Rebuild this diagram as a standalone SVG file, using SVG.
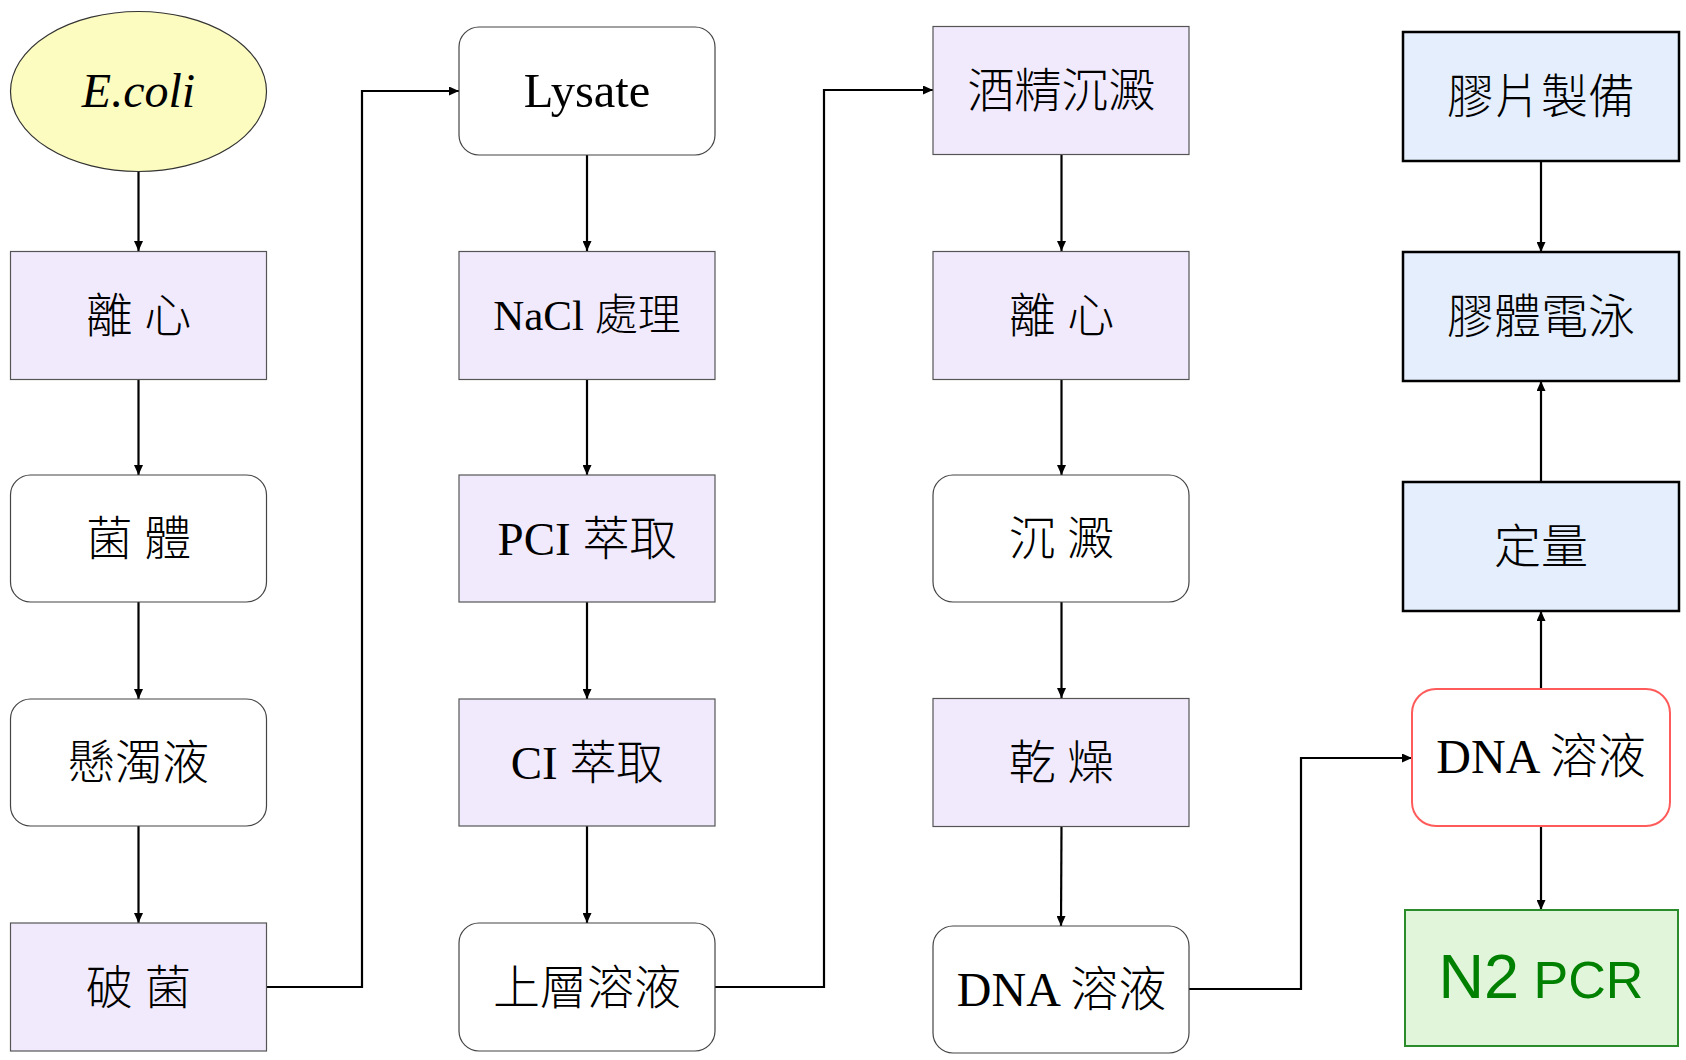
<svg xmlns="http://www.w3.org/2000/svg" width="1686" height="1060" viewBox="0 0 1686 1060">
<defs>
<marker id="arr" markerWidth="10" markerHeight="9" refX="10" refY="4.5" orient="auto" markerUnits="userSpaceOnUse">
<path d="M0,0 L10,4.5 L0,9 z" fill="#000"/>
</marker>
<style>
.t{font-family:"Liberation Serif","Noto Sans CJK TC",serif;font-size:47px;fill:#000;text-anchor:middle;font-weight:300}
.p{fill:#F1EAFD;stroke:#555;stroke-width:1.2}
.w{fill:#fff;stroke:#444;stroke-width:1.2}
.b{fill:#E4EEFC;stroke:#000;stroke-width:2.5}
.c{fill:none;stroke:#000;stroke-width:2.2}
</style>
</defs>
<rect width="1686" height="1060" fill="#fff"/>

<g id="connectors">
<path class="c" d="M138.5,172 V251" marker-end="url(#arr)"/>
<path class="c" d="M138.5,379 V475" marker-end="url(#arr)"/>
<path class="c" d="M138.5,602 V699" marker-end="url(#arr)"/>
<path class="c" d="M138.5,826 V923" marker-end="url(#arr)"/>
<path class="c" d="M266.5,987 H362 V91 H459" marker-end="url(#arr)"/>
<path class="c" d="M587,155 V251" marker-end="url(#arr)"/>
<path class="c" d="M587,379 V475" marker-end="url(#arr)"/>
<path class="c" d="M587,602 V699" marker-end="url(#arr)"/>
<path class="c" d="M587,826 V923" marker-end="url(#arr)"/>
<path class="c" d="M715,987 H824 V90 H933" marker-end="url(#arr)"/>
<path class="c" d="M1061.5,154 V251" marker-end="url(#arr)"/>
<path class="c" d="M1061.5,379 V475" marker-end="url(#arr)"/>
<path class="c" d="M1061.5,602 V698" marker-end="url(#arr)"/>
<path class="c" d="M1061.5,826 L1061,926" marker-end="url(#arr)"/>
<path class="c" d="M1189,989 H1301 V758 H1412" marker-end="url(#arr)"/>
<path class="c" d="M1541,161 V252" marker-end="url(#arr)"/>
<path class="c" d="M1541,482 V381" marker-end="url(#arr)"/>
<path class="c" d="M1541,689 V611" marker-end="url(#arr)"/>
<path class="c" d="M1541,826 V910" marker-end="url(#arr)"/>
</g>

<g id="ecoli">
<ellipse cx="138.5" cy="91.5" rx="128" ry="80" fill="#FCFCC0" stroke="#333" stroke-width="1.2"/>
<text class="t" x="138.5" y="107" font-style="italic" style="font-size:48px">E.coli</text>
</g>
<g id="c1r1"><rect class="p" x="10.5" y="251.5" width="256" height="128"/><text class="t" x="138.5" y="332">離 心</text></g>
<g id="c1r2"><rect class="w" x="10.5" y="475" width="256" height="127" rx="20"/><text class="t" x="138.5" y="555">菌 體</text></g>
<g id="c1r3"><rect class="w" x="10.5" y="699" width="256" height="127" rx="20"/><text class="t" x="138.5" y="779">懸濁液</text></g>
<g id="c1r4"><rect class="p" x="10.5" y="923" width="256" height="128"/><text class="t" x="138.5" y="1004">破 菌</text></g>

<g id="c2r0"><rect class="w" x="459" y="27" width="256" height="128" rx="20"/><text class="t" x="587" y="107" style="font-size:48.5px">Lysate</text></g>
<g id="c2r1"><rect class="p" x="459" y="251.5" width="256" height="128"/><text class="t" x="587" y="330" style="font-size:43px">NaCl 處理</text></g>
<g id="c2r2"><rect class="p" x="459" y="475" width="256" height="127"/><text class="t" x="587" y="555">PCI 萃取</text></g>
<g id="c2r3"><rect class="p" x="459" y="699" width="256" height="127"/><text class="t" x="587" y="779">CI 萃取</text></g>
<g id="c2r4"><rect class="w" x="459" y="923" width="256" height="128" rx="20"/><text class="t" x="587" y="1004">上層溶液</text></g>

<g id="c3r0"><rect class="p" x="933" y="26.5" width="256" height="128"/><text class="t" x="1061.5" y="107">酒精沉澱</text></g>
<g id="c3r1"><rect class="p" x="933" y="251.5" width="256" height="128"/><text class="t" x="1061.5" y="332">離 心</text></g>
<g id="c3r2"><rect class="w" x="933" y="475" width="256" height="127" rx="20"/><text class="t" x="1061.5" y="555">沉 澱</text></g>
<g id="c3r3"><rect class="p" x="933" y="698.5" width="256" height="128"/><text class="t" x="1061.5" y="779">乾 燥</text></g>
<g id="c3r4"><rect class="w" x="933" y="926" width="256" height="127" rx="20"/><text class="t" x="1061.5" y="1006" style="font-size:48px">DNA 溶液</text></g>

<g id="gelprep"><rect class="b" x="1403" y="32" width="276" height="129"/><text class="t" x="1541" y="113">膠片製備</text></g>
<g id="electro"><rect class="b" x="1403" y="252" width="276" height="129"/><text class="t" x="1541" y="333">膠體電泳</text></g>
<g id="quant"><rect class="b" x="1403" y="482" width="276" height="129"/><text class="t" x="1541" y="563">定量</text></g>
<g id="dnared"><rect x="1412" y="689" width="258" height="137" rx="24" fill="#fff" stroke="#FF5B5B" stroke-width="2"/><text class="t" x="1541" y="773" style="font-size:48px">DNA 溶液</text></g>
<g id="pcr"><rect x="1405" y="910" width="273" height="136" fill="#E1F5DA" stroke="#2A8C2A" stroke-width="2"/><text x="1541" y="998" text-anchor="middle" font-family="Liberation Sans, Arial, sans-serif" fill="#008000"><tspan font-size="63">N2</tspan><tspan font-size="52"> PCR</tspan></text></g>
</svg>
